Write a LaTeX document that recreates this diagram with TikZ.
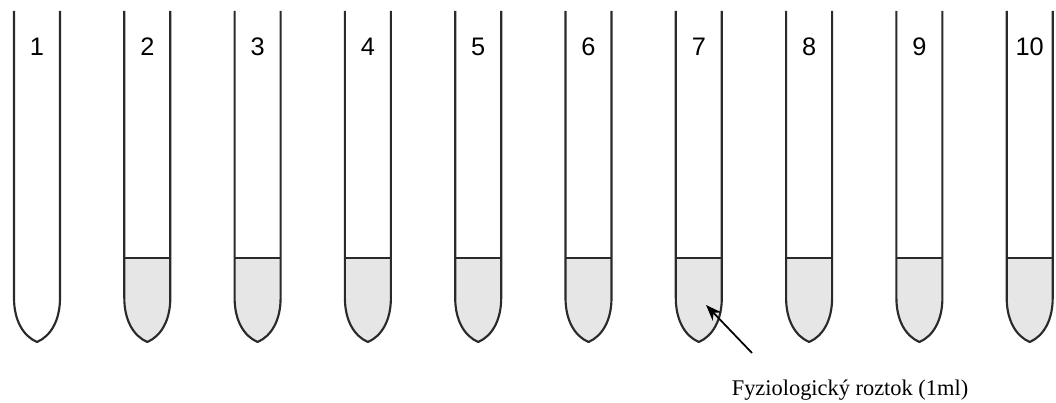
\documentclass[tikz,border=0pt]{standalone}
\usepackage{fontspec}
\setmainfont{Liberation Serif}
\newfontfamily\numfont{Liberation Sans}
\usetikzlibrary{arrows.meta}
\definecolor{wall}{HTML}{2A2A2A}
\definecolor{liquid}{HTML}{E6E6E6}
\tikzset{
  tubewall/.style={draw=wall, line width=1.6pt, line join=round},
  liquidfill/.style={fill=liquid},
  surface/.style={draw=wall, line width=0.9pt},
  numlabel/.style={font=\numfont\fontsize{19}{21}\selectfont, inner sep=0pt, text=black},
  caption/.style={font=\fontsize{16.8}{19}\selectfont, inner sep=0pt, anchor=base},
  pointer/.style={draw=black, line width=1.3pt, -{Stealth[length=12pt,width=9pt]}}
}
\begin{document}
\begin{tikzpicture}[x=0.75pt,y=-0.75pt]
\useasboundingbox (0,0) rectangle (1056,403);
\foreach \i in {1,...,10}{
  \pgfmathsetmacro{\L}{14+(\i-1)*110.3}
  \pgfmathsetmacro{\R}{\L+46}
  \pgfmathsetmacro{\C}{\L+23}
  \ifnum\i>1
    \fill[liquidfill] (\L,258) -- (\L,298) .. controls (\L,320) and (\L+9,336) .. (\C,342)
      .. controls (\R-9,336) and (\R,320) .. (\R,298) -- (\R,258) -- cycle;
    \draw[surface] (\L,258) -- (\R,258);
  \fi
  \draw[tubewall] (\L,11) -- (\L,298) .. controls (\L,320) and (\L+9,336) .. (\C,342)
      .. controls (\R-9,336) and (\R,320) .. (\R,298) -- (\R,11);
  \node[numlabel] (n\i) at (\C,47) {\i};
}
\coordinate (tip) at (706,305);
\coordinate (tail) at (752,353);
\draw[pointer] (tail) -- (tip);
\node[caption] (cap) at (850,395) {Fyziologický roztok (1ml)};
\end{tikzpicture}
\end{document}
